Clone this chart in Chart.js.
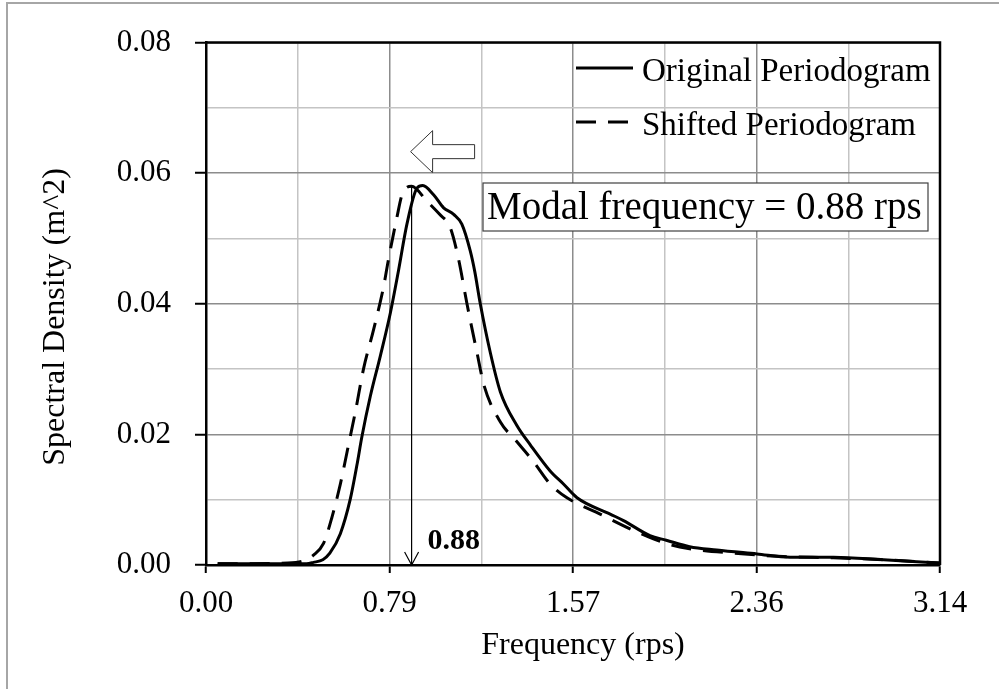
<!DOCTYPE html>
<html>
<head>
<meta charset="utf-8">
<title>Periodogram</title>
<script src="https://cdn.jsdelivr.net/npm/chart.js@4.4.0/dist/chart.umd.min.js"></script>
<style>
  html, body { margin: 0; padding: 0; background: #fff; }
  #wrap { width: 999px; height: 689px; }
</style>
</head>
<body>
<div id="wrap"><canvas id="chart" width="999" height="689"></canvas></div>
<script>
// frequency (rps) / spectral density (m^2)
const origFreq = [0.05, 0.20, 0.35, 0.43, 0.46, 0.50, 0.53, 0.575, 0.617, 0.646, 0.667, 0.703, 0.746, 0.789,
                  0.824, 0.86, 0.903, 0.928, 0.974, 1.017, 1.06, 1.095, 1.131, 1.15, 1.174, 1.217, 1.26, 1.33,
                  1.388, 1.473, 1.53, 1.588, 1.73, 1.787, 1.90, 1.97, 2.07, 2.186, 2.358, 2.50, 2.686, 2.90, 3.14];
const origDensity = [0.0002, 0.0002, 0.0002, 0.0002, 0.0004, 0.0008, 0.0018, 0.0048, 0.0100, 0.0153, 0.0196, 0.0258, 0.032, 0.0386,
                     0.0451, 0.0522, 0.0577, 0.0581, 0.0567, 0.0547, 0.0537, 0.0522, 0.0481, 0.0450, 0.040, 0.0325, 0.0265, 0.0214,
                     0.0184, 0.0144, 0.0124, 0.0103, 0.0078, 0.0068, 0.0045, 0.0038, 0.0028, 0.0023, 0.0017, 0.0012, 0.0012, 0.0008, 0.0003];

const shiftFreq = [0.05, 0.20, 0.35, 0.43, 0.46, 0.503, 0.539, 0.575, 0.61, 0.639, 0.674, 0.717, 0.76, 0.78,
                   0.817, 0.839, 0.88, 0.946, 1.0, 1.045, 1.08, 1.117, 1.16, 1.19, 1.26, 1.33, 1.40, 1.473,
                   1.545, 1.687, 1.83, 1.97, 2.07, 2.26, 2.47, 2.686, 2.90, 3.14];
const shiftDensity = [0.0002, 0.0002, 0.0003, 0.0008, 0.0015, 0.0033, 0.0073, 0.0124, 0.0184, 0.0234, 0.030, 0.036, 0.0426, 0.0466,
                      0.0532, 0.0567, 0.058, 0.0557, 0.0537, 0.0517, 0.047, 0.040, 0.0325, 0.0275, 0.0219, 0.0189, 0.0159, 0.0124,
                      0.0103, 0.0078, 0.0053, 0.0033, 0.0025, 0.0018, 0.0013, 0.0011, 0.0008, 0.0003];

// grid every pi/8, labels every pi/4
const xTickValues = [0, 0.3927, 0.7854, 1.1781, 1.5708, 1.9635, 2.3562, 2.7489, 3.1416];
const xTickLabels = ["0.00", "", "0.79", "", "1.57", "", "2.36", "", "3.14"];
const yTickValues = [0, 0.01, 0.02, 0.03, 0.04, 0.05, 0.06, 0.07, 0.08];
const yTickLabels = ["0.00", "", "0.02", "", "0.04", "", "0.06", "", "0.08"];

const modalFreq = 0.88;
const modalPeak = 0.058;
const modalText = "Modal frequency = 0.88 rps";
const seriesLabels = ["Original Periodogram", "Shifted Periodogram"];

const SERIF = "'Liberation Serif', 'Times New Roman', serif";
Chart.defaults.font.family = SERIF;
Chart.defaults.color = "#000";

function toPoints(xs, ys) {
    return xs.map((x, i) => ({ x: x, y: ys[i] }));
}

const gridColor = (c) => (c.index % 2 === 0 ? "#8c8c8c" : "#c4c4c4");
const tickColor = (c) => (c.index % 2 === 0 ? "#000" : "rgba(0,0,0,0)");

const decorations = {
    id: "decorations",
    beforeDraw(chart) {
        const ctx = chart.ctx;
        ctx.save();
        ctx.strokeStyle = "#a6a6a6";
        ctx.lineWidth = 2;
        ctx.beginPath();
        ctx.moveTo(7, 689);
        ctx.lineTo(7, 3);
        ctx.lineTo(999, 3);
        ctx.stroke();
        ctx.restore();
    },
    afterDraw(chart) {
        const ctx = chart.ctx;
        const area = chart.chartArea;
        const xs = chart.scales.x;
        const ys = chart.scales.y;
        ctx.save();

        // plot frame (top / right)
        ctx.strokeStyle = "#000";
        ctx.lineWidth = 2.5;
        ctx.beginPath();
        ctx.moveTo(area.left, area.top);
        ctx.lineTo(area.right, area.top);
        ctx.lineTo(area.right, area.bottom);
        ctx.stroke();

        // axis titles
        ctx.fillStyle = "#000";
        ctx.font = "32px " + SERIF;
        ctx.textAlign = "center";
        ctx.textBaseline = "middle";
        ctx.fillText("Frequency (rps)", 583, 646);
        ctx.save();
        ctx.translate(56, 317);
        ctx.rotate(-Math.PI / 2);
        ctx.fillText("Spectral Density (m^2)", 0, 0);
        ctx.restore();

        // legend
        const ds = chart.data.datasets;
        const legendY = [68, 122];
        ctx.font = "33px " + SERIF;
        ctx.textAlign = "left";
        ctx.textBaseline = "alphabetic";
        ds.forEach((d, i) => {
            ctx.strokeStyle = "#000";
            ctx.lineWidth = 3;
            ctx.setLineDash(d.borderDash || []);
            ctx.beginPath();
            ctx.moveTo(576, legendY[i]);
            ctx.lineTo(633, legendY[i]);
            ctx.stroke();
            ctx.setLineDash([]);
            ctx.fillText(d.label, 642, legendY[i] + 13);
        });

        // modal frequency box
        ctx.fillStyle = "#fff";
        ctx.fillRect(483, 183, 445, 48);
        ctx.strokeStyle = "#404040";
        ctx.lineWidth = 1.2;
        ctx.strokeRect(483, 183, 445, 48);
        ctx.fillStyle = "#000";
        ctx.font = "39px " + SERIF;
        ctx.textBaseline = "middle";
        ctx.fillText(modalText, 487, 209);

        // vertical arrow down to the modal frequency
        const mx = xs.getPixelForValue(modalFreq);
        const top = ys.getPixelForValue(modalPeak);
        const bot = area.bottom;
        ctx.strokeStyle = "#000";
        ctx.lineWidth = 1.2;
        ctx.beginPath();
        ctx.moveTo(mx, top);
        ctx.lineTo(mx, bot);
        ctx.moveTo(mx - 7, bot - 13);
        ctx.lineTo(mx, bot);
        ctx.lineTo(mx + 7, bot - 13);
        ctx.stroke();

        ctx.font = "bold 30px " + SERIF;
        ctx.textBaseline = "alphabetic";
        ctx.fillText(modalFreq.toFixed(2), mx + 16, bot - 16);

        // hollow left arrow showing the shift
        const tx = mx - 1;
        const ty = ys.getPixelForValue(0.0633);
        ctx.fillStyle = "#fff";
        ctx.strokeStyle = "#333";
        ctx.lineWidth = 1;
        ctx.beginPath();
        ctx.moveTo(tx, ty);
        ctx.lineTo(tx + 22, ty - 21);
        ctx.lineTo(tx + 22, ty - 7);
        ctx.lineTo(tx + 64, ty - 7);
        ctx.lineTo(tx + 64, ty + 7);
        ctx.lineTo(tx + 22, ty + 7);
        ctx.lineTo(tx + 22, ty + 21);
        ctx.closePath();
        ctx.fill();
        ctx.stroke();

        ctx.restore();
    }
};

const chart = new Chart(document.getElementById("chart"), {
    type: "line",
    data: {
        datasets: [{
            label: seriesLabels[0],
            data: toPoints(origFreq, origDensity),
            borderColor: "#000",
            borderWidth: 3,
            pointRadius: 0,
            cubicInterpolationMode: "monotone",
            fill: false
        },
        {
            label: seriesLabels[1],
            data: toPoints(shiftFreq, shiftDensity),
            borderColor: "#000",
            borderWidth: 3,
            borderDash: [20, 12],
            pointRadius: 0,
            cubicInterpolationMode: "monotone",
            fill: false
        }]
    },
    options: {
        responsive: false,
        animation: false,
        devicePixelRatio: 1,
        layout: {
            padding: { top: 36, right: 59, left: 0, bottom: 0 }
        },
        scales: {
            x: {
                type: "linear",
                min: 0,
                max: 3.1416,
                afterBuildTicks: (scale) => { scale.ticks = xTickValues.map(v => ({ value: v })); },
                afterFit: (scale) => { scale.height = 124; },
                ticks: {
                    autoSkip: false,
                    maxRotation: 0,
                    padding: 12,
                    font: { size: 31 },
                    callback: (value, index) => xTickLabels[index]
                },
                grid: {
                    color: gridColor,
                    lineWidth: 1.5,
                    tickColor: tickColor,
                    tickLength: 8,
                    tickWidth: 2
                },
                border: { color: "#000", width: 2.5 }
            },
            y: {
                min: 0,
                max: 0.08,
                afterBuildTicks: (scale) => { scale.ticks = yTickValues.map(v => ({ value: v })); },
                afterFit: (scale) => { scale.width = 206; },
                ticks: {
                    autoSkip: false,
                    padding: 24,
                    font: { size: 31 },
                    callback: (value, index) => yTickLabels[index]
                },
                grid: {
                    color: gridColor,
                    lineWidth: 1.5,
                    tickColor: tickColor,
                    tickLength: 11,
                    tickWidth: 2
                },
                border: { color: "#000", width: 2.5 }
            }
        },
        plugins: {
            legend: { display: false },
            title: { display: false },
            tooltip: { enabled: false }
        }
    },
    plugins: [decorations]
});
</script>
</body>
</html>
